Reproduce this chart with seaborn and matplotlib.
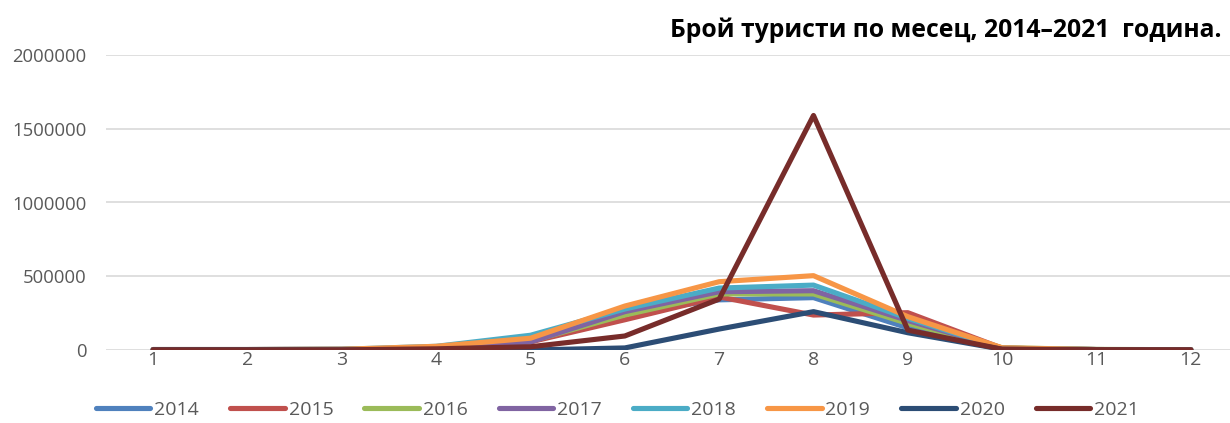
import pandas as pd
import matplotlib.pyplot as plt
import seaborn as sns

# --------------------------------------------------------------------------
# data
# --------------------------------------------------------------------------
months = [1, 2, 3, 4, 5, 6, 7, 8, 9, 10, 11, 12]
years = ['2014', '2015', '2016', '2017', '2018', '2019', '2020', '2021']

v2014 = [3000, 3000, 4000, 15000, 60000, 250000, 340000, 355000, 150000, 12000, 3000, 2000]
v2015 = [3000, 3000, 4000, 15000, 55000, 205000, 360000, 237000, 253000, 12000, 3000, 2000]
v2016 = [3000, 3000, 4000, 15000, 60000, 237000, 380000, 380000, 180000, 15000, 4000, 2000]
v2017 = [3000, 3000, 4000, 18000, 55000, 260000, 395000, 402000, 200000, 12000, 3000, 2000]
v2018 = [3000, 3000, 5000, 25000, 100000, 278000, 420000, 440000, 215000, 12000, 3000, 2000]
v2019 = [3000, 3000, 5000, 25000, 80000, 298000, 463000, 504000, 226000, 15000, 3000, 2000]
v2020 = [2000, 2000, 1000, 0, 0, 14000, 142000, 260000, 117000, 5000, 1000, 1000]
v2021 = [1000, 1000, 1000, 8000, 22000, 95000, 345000, 1590000, 135000, 5000, 2000, 1000]

colors = ['#4F81BD', '#C0504D', '#9BBB59', '#8064A2', '#4BACC6', '#F79646', '#2C4D75', '#772C2A']
title = 'Брой туристи по месец, 2014–2021  година.'

# --------------------------------------------------------------------------
# long table for seaborn
# --------------------------------------------------------------------------
series = [v2014, v2015, v2016, v2017, v2018, v2019, v2020, v2021]
rows = []
for y, vals in zip(years, series):
    for m, v in zip(months, vals):
        rows.append({'month': m, 'year': y, 'tourists': v})
df = pd.DataFrame(rows)

# --------------------------------------------------------------------------
# plot
# --------------------------------------------------------------------------
sns.set_style('white')
plt.rcParams['font.family'] = ['Open Sans', 'DejaVu Sans']

fig = plt.figure(figsize=(12.3, 4.23), dpi=100)
ax = fig.add_axes([106 / 1230, 73 / 423, 1132 / 1230, 295 / 423])

sns.lineplot(data=df, x='month', y='tourists', hue='year', hue_order=years,
             palette=dict(zip(years, colors)), linewidth=3.7, ax=ax,
             solid_capstyle='round', legend=False)

ax.set_xlim(0.5, 12.5)
ax.set_ylim(0, 2000000)
ax.set_xticks(months)
ax.set_yticks([0, 500000, 1000000, 1500000, 2000000])
ax.set_yticklabels(['0', '500000', '1000000', '1500000', '2000000'])
ax.set_xlabel('')
ax.set_ylabel('')
ax.grid(axis='y', color='#D9D9D9', linewidth=1.2)
ax.set_axisbelow(True)
for s in ax.spines.values():
    s.set_visible(False)
ax.tick_params(axis='both', length=0, labelsize=14, colors='#595959')
ax.tick_params(axis='y', pad=14, labelsize=13.3)
ax.tick_params(axis='x', pad=1)

handles = [plt.Line2D([], [], color=c, linewidth=3.7, solid_capstyle='round') for c in colors]
leg = fig.legend(handles, years, loc='center', bbox_to_anchor=(0.502, 1 - 410 / 423),
                 ncol=8, frameon=False, fontsize=14, handlelength=2.8,
                 handletextpad=0.2, columnspacing=1.6)
for t in leg.get_texts():
    t.set_color('#595959')

fig.text(1222 / 1230, 1 - 30 / 423, title, ha='right', va='center',
         fontsize=17.8, fontweight='bold', color='black')

fig.savefig('out.png', dpi=100)
